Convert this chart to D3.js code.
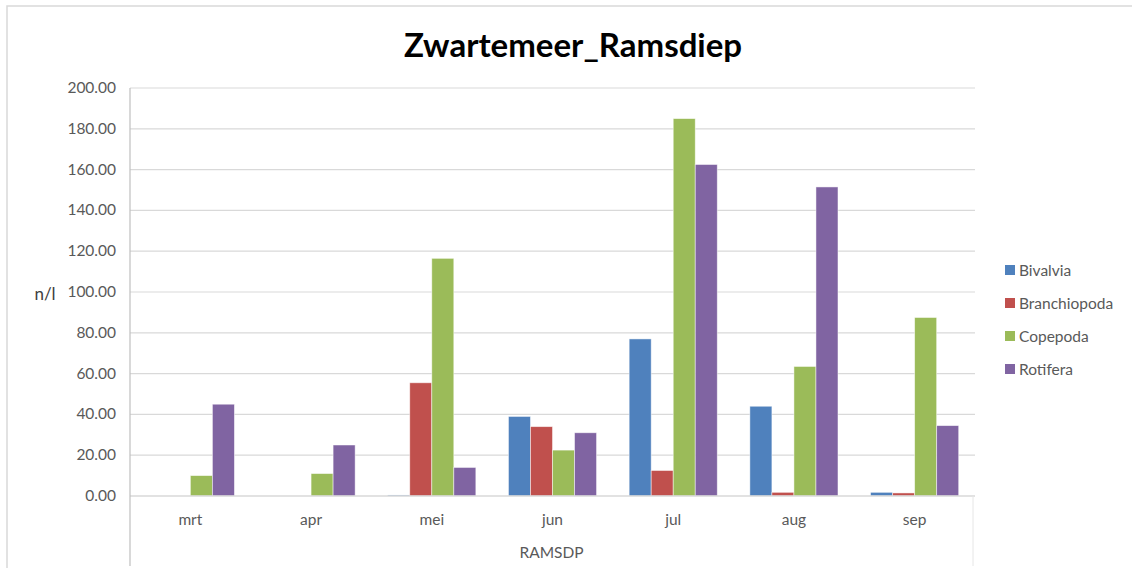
<!DOCTYPE html>
<html>
<head>
<meta charset="utf-8">
<script src="https://cdn.jsdelivr.net/npm/d3@7"></script>
<style>
  body { margin: 0; background: #fff; }
  text { font-family: Lato, "Open Sans", sans-serif; }
</style>
</head>
<body>
<div id="draw"></div>
<script>
let months = ['mrt', 'apr', 'mei', 'jun', 'jul', 'aug', 'sep'];
let seriesNames = ['Bivalvia', 'Branchiopoda', 'Copepoda', 'Rotifera'];
let bivalvia = [0, 0, 0.5, 39, 77, 44, 1.8];
let branchiopoda = [0, 0, 55.5, 34, 12.5, 1.8, 1.5];
let copepoda = [10, 11, 116.5, 22.5, 185, 63.5, 87.5];
let rotifera = [45, 25, 14, 31, 162.5, 151.5, 34.5];
let yTicks = [0, 20, 40, 60, 80, 100, 120, 140, 160, 180, 200];
let colors = ['#4F81BD', '#C0504D', '#9BBB59', '#8064A2'];

let W = 1132, H = 568;
let values = [bivalvia, branchiopoda, copepoda, rotifera];

let svg = d3.select('#draw').append('svg').attr('width', W).attr('height', H);

// chart frame
svg.append('rect')
  .attr('x', 7).attr('y', 6).attr('width', W).attr('height', H)
  .attr('fill', '#fff').attr('stroke', '#D9D9D9').attr('stroke-width', 1.5);

let pLeft = 130, pRight = 975, pTop = 88, pBottom = 496;

let x = d3.scaleBand().domain(months).range([pLeft, pRight]);
let xs = d3.scaleBand().domain(seriesNames).range([0, x.bandwidth()]).paddingOuter(0.74).paddingInner(0);
let y = d3.scaleLinear().domain([0, 200]).range([pBottom, pTop]);

// gridlines
svg.append('g').selectAll('line').data(yTicks.slice(1)).join('line')
  .attr('x1', pLeft).attr('x2', pRight)
  .attr('y1', d => y(d)).attr('y2', d => y(d))
  .attr('stroke', '#D9D9D9').attr('stroke-width', 1.2);

// y labels
svg.append('g').selectAll('text').data(yTicks).join('text')
  .attr('x', 116).attr('y', d => y(d) + 5)
  .attr('text-anchor', 'end')
  .attr('font-size', 15.5).attr('fill', '#595959')
  .text(d => d.toFixed(2));

// bars
let g = svg.append('g');
months.forEach((m, i) => {
  seriesNames.forEach((s, j) => {
    let v = values[j][i];
    if (v <= 0) return;
    g.append('rect')
      .attr('x', x(m) + xs(s))
      .attr('y', y(v))
      .attr('width', xs.bandwidth())
      .attr('height', y(0) - y(v))
      .attr('fill', colors[j])
      .attr('stroke', 'rgba(255,255,255,0.6)')
      .attr('stroke-width', 0.8);
  });
});

// axes lines
svg.append('line').attr('x1', pLeft).attr('x2', pRight).attr('y1', pBottom).attr('y2', pBottom)
  .attr('stroke', '#D9D9D9').attr('stroke-width', 1.5);
svg.append('line').attr('x1', pLeft).attr('x2', pLeft).attr('y1', pTop).attr('y2', 566)
  .attr('stroke', '#BFBFBF').attr('stroke-width', 1.2);
svg.append('line').attr('x1', pRight - 2).attr('x2', pRight - 2).attr('y1', pBottom).attr('y2', 566)
  .attr('stroke', '#E6E6E6').attr('stroke-width', 1);

// month labels
svg.append('g').selectAll('text').data(months).join('text')
  .attr('x', d => x(d) + x.bandwidth() / 2).attr('y', 525)
  .attr('text-anchor', 'middle')
  .attr('font-size', 15.5).attr('fill', '#595959')
  .text(d => d);

svg.append('text')
  .attr('x', (pLeft + pRight) / 2 - 1).attr('y', 558)
  .attr('text-anchor', 'middle')
  .attr('font-size', 15.5).attr('fill', '#595959')
  .text('RAMSDP');

// y axis title
svg.append('text')
  .attr('x', 45).attr('y', 300)
  .attr('text-anchor', 'middle')
  .attr('font-size', 17).attr('fill', '#404040')
  .text('n/l');

// title
svg.append('text')
  .attr('x', 573).attr('y', 57)
  .attr('text-anchor', 'middle')
  .attr('font-size', 33).attr('font-weight', 'bold').attr('fill', '#000')
  .text('Zwartemeer_Ramsdiep');

// legend
let leg = svg.append('g').selectAll('g').data(seriesNames).join('g')
  .attr('transform', (d, i) => `translate(1005, ${270 + i * 33})`);
leg.append('rect').attr('x', 0).attr('y', -5).attr('width', 10).attr('height', 10)
  .attr('fill', (d, i) => colors[i]);
leg.append('text').attr('x', 14).attr('y', 5.5)
  .attr('font-size', 15.5).attr('fill', '#595959')
  .text(d => d);
</script>
</body>
</html>
